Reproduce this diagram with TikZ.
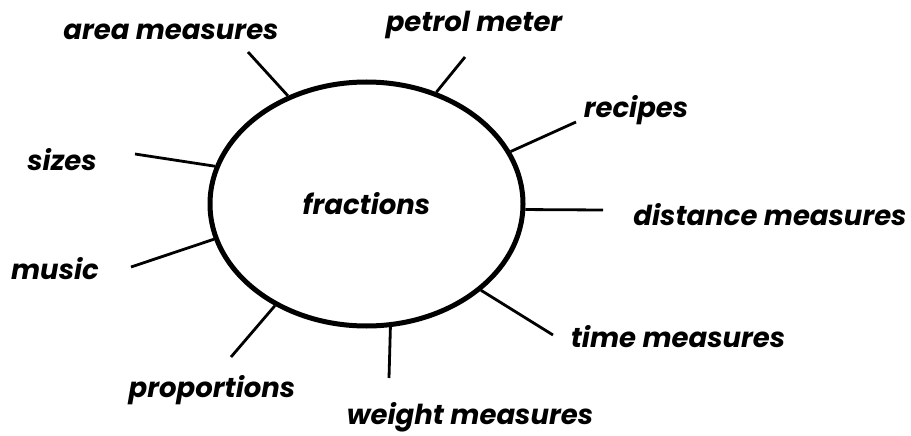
\documentclass[tikz,border=0pt]{standalone}
\usepackage{fontspec}
\setmainfont{Poppins}
\usetikzlibrary{shapes.geometric}

\tikzset{
  spoke/.style={line width=2.8pt},
  topic/.style={font=\fontsize{27.5}{32}\selectfont\bfseries\itshape, inner sep=0pt}
}

\begin{document}
\begin{tikzpicture}[x=1pt,y=-1pt]
\useasboundingbox (0,0) rectangle (911,436);
\node[draw, ellipse, line width=5pt, minimum width=313pt, minimum height=244pt, topic] (frac) at (366.5,204) {fractions};
% outer ends of the spokes
\coordinate (cArea) at (248,52);
\coordinate (cPetrol) at (465,57);
\coordinate (cRecipes) at (576,122);
\coordinate (cDistance) at (603,210);
\coordinate (cTime) at (553,335);
\coordinate (cWeight) at (389,378);
\coordinate (cProp) at (231,357);
\coordinate (cMusic) at (131,267);
\coordinate (cSizes) at (135,154);
\draw[spoke] (frac.126) -- (cArea);
\draw[spoke] (frac.58) -- (cPetrol);
\draw[spoke] (frac.20) -- (cRecipes);
\draw[spoke] (frac.-2) -- (cDistance);
\draw[spoke] (frac.-37.5) -- (cTime);
\draw[spoke] (frac.-79.5) -- (cWeight);
\draw[spoke] (frac.228.6) -- (cProp);
\draw[spoke] (frac.193.3) -- (cMusic);
\draw[spoke] (frac.166.2) -- (cSizes);
% labels
\node[topic] (area) at (171,32) {area measures};
\node[topic] (petrol) at (474,25) {petrol meter};
\node[topic] (recipes) at (636,110) {recipes};
\node[topic] (distance) at (770,215) {distance measures};
\node[topic] (time) at (678,337) {time measures};
\node[topic] (weight) at (470,417) {weight measures};
\node[topic] (prop) at (212,390) {proportions};
\node[topic] (music) at (55,269) {music};
\node[topic] (sizes) at (62,160) {sizes};
\end{tikzpicture}
\end{document}
